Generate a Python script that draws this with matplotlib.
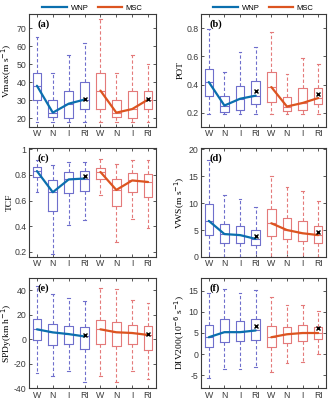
import matplotlib
matplotlib.use("Agg")
import matplotlib.pyplot as plt
from matplotlib.lines import Line2D

# ---------------- data ----------------
categories = ["W", "N", "I", "RI", "W", "N", "I", "RI"]
series = ["WNP", "MSC"]

# (a) Vmax
vmax_lo = [18, 18, 18, 18, 18, 18, 18, 18]
vmax_q1 = [30, 20.5, 20, 25, 25, 20.5, 20, 25]
vmax_med = [38, 23, 28, 30.3, 35.3, 23, 25, 30.3]
vmax_q3 = [45, 30, 35, 40, 45, 30, 35, 35]
vmax_hi = [65, 45, 55, 62, 75, 45, 55, 50.4]
vmax_mean = [30.8, 30.6]

# (b) POT
pot_lo = [0.195, 0.19, 0.19, 0.19, 0.19, 0.19, 0.19, 0.195]
pot_q1 = [0.32, 0.207, 0.22, 0.262, 0.28, 0.212, 0.22, 0.26]
pot_med = [0.418, 0.252, 0.30, 0.322, 0.383, 0.245, 0.27, 0.305]
pot_q3 = [0.51, 0.32, 0.387, 0.428, 0.488, 0.31, 0.375, 0.375]
pot_hi = [0.795, 0.488, 0.634, 0.663, 0.775, 0.476, 0.59, 0.543]
pot_mean = [0.352, 0.335]

# (c) TCF
tcf_lo = [0.665, 0.187, 0.41, 0.45, 0.64, 0.28, 0.46, 0.39]
tcf_q1 = [0.784, 0.52, 0.657, 0.675, 0.768, 0.56, 0.67, 0.625]
tcf_med = [0.83, 0.665, 0.765, 0.772, 0.823, 0.683, 0.757, 0.745]
tcf_q3 = [0.86, 0.757, 0.82, 0.83, 0.855, 0.77, 0.815, 0.805]
tcf_hi = [0.92, 0.88, 0.90, 0.90, 0.927, 0.887, 0.913, 0.913]
tcf_mean = [0.795, None]

# (d) VWS
vws_lo = [0, 0, 0, 0, 0, 0, 0, 0]
vws_q1 = [4.06, 2.6, 2.6, 2.2, 3.9, 3.25, 2.9, 2.6]
vws_med = [6.7, 4.25, 4.06, 3.35, 6.25, 5.0, 4.4, 4.06]
vws_q3 = [9.9, 6.1, 5.8, 5.0, 8.9, 7.3, 6.7, 5.75]
vws_hi = [18, 11.4, 10.8, 9.25, 15.1, 13, 12.3, 10.3]
vws_mean = [3.8, 4.6]

# (e) SPDy
spd_lo = [-27.6, -30.5, -26.2, -35, -30.5, -35, -26.2, -33]
spd_q1 = [-0.8, -4.7, -4.1, -8.3, -3.6, -6, -3.6, -9.1]
spd_med = [8.0, 5.5, 4.1, 2.2, 8.0, 5.6, 5.0, 3.4]
spd_q3 = [16.5, 12.4, 11, 9.7, 15.7, 13.8, 11.9, 11]
spd_hi = [43.3, 36.7, 33.7, 31.2, 42, 40.8, 32.3, 29.5]
spd_mean = [3.0, 4.5]

# (f) DIV200
div_lo = [-5.7, -3.6, -3.6, -3.0, -4.1, -2.0, -1.8, 0]
div_q1 = [1.75, 2.8, 3.0, 3.3, 1.75, 2.6, 3.2, 3.6]
div_med = [4.0, 5.2, 5.2, 5.6, 4.0, 4.7, 5.0, 5.0]
div_q3 = [6.9, 8.2, 7.8, 8.3, 6.6, 6.5, 6.9, 6.5]
div_hi = [14.5, 15.3, 14.4, 15.2, 13.5, 11.7, 11.7, 10.2]
div_mean = [6.6, 6.1]

# ---------------- style ----------------
BOX_COLORS = ["#6f6fcc", "#e47a7a"]
LINE_COLORS = ["#0b6fae", "#dc5420"]
SPINE = "#3a3a3a"
SERIF = ["Liberation Serif", "DejaVu Serif"]
SANS = ["Liberation Sans", "DejaVu Sans"]

plt.rcParams["font.family"] = SANS

fig = plt.figure(figsize=(3.28, 4.0), dpi=100)

lx0, lw = 29 / 328, 127 / 328
rx0, rw = 201 / 328, 125 / 328
rows = [(1 - 127 / 400, 113 / 400), (1 - 257 / 400, 109 / 400), (1 - 388 / 400, 110 / 400)]

panels = [
    ("(a)", r"Vmax(m s$^{-1}$)", vmax_lo, vmax_q1, vmax_med, vmax_q3, vmax_hi, vmax_mean,
     (15, 78), [20, 30, 40, 50, 60, 70], ["20", "30", "40", "50", "60", "70"]),
    ("(b)", "POT", pot_lo, pot_q1, pot_med, pot_q3, pot_hi, pot_mean,
     (0.1, 0.9), [0.2, 0.4, 0.6, 0.8], ["0.2", "0.4", "0.6", "0.8"]),
    ("(c)", "TCF", tcf_lo, tcf_q1, tcf_med, tcf_q3, tcf_hi, tcf_mean,
     (0.16, 1.01), [0.2, 0.4, 0.6, 0.8, 1.0], ["0.2", "0.4", "0.6", "0.8", "1"]),
    ("(d)", r"VWS(m s$^{-1}$)", vws_lo, vws_q1, vws_med, vws_q3, vws_hi, vws_mean,
     (0, 20.2), [0, 5, 10, 15, 20], ["0", "5", "10", "15", "20"]),
    ("(e)", r"SPDy(km h$^{-1}$)", spd_lo, spd_q1, spd_med, spd_q3, spd_hi, spd_mean,
     (-40, 50), [-40, -20, 0, 20, 40], ["-40", "-20", "0", "20", "40"]),
    ("(f)", r"DIV200(10$^{-6}$ s$^{-1}$)", div_lo, div_q1, div_med, div_q3, div_hi, div_mean,
     (-8, 18), [-5, 0, 5, 10, 15], ["-5", "0", "5", "10", "15"]),
]

positions = list(range(1, len(categories) + 1))

for i, (tag, ylab, lo, q1, med, q3, hi, mean, ylim, yt, ytl) in enumerate(panels):
    r, c = divmod(i, 2)
    y0, h = rows[r]
    x0, w = (lx0, lw) if c == 0 else (rx0, rw)
    ax = fig.add_axes([x0, y0, w, h])

    for s in range(2):
        sl = slice(4 * s, 4 * s + 4)
        stats = []
        for k in range(4 * s, 4 * s + 4):
            stats.append(dict(med=med[k], q1=q1[k], q3=q3[k],
                              whislo=lo[k], whishi=hi[k], fliers=[]))
        col = BOX_COLORS[s]
        ax.bxp(stats, positions=positions[sl], widths=0.55, showfliers=False,
               capwidths=0.18, manage_ticks=False,
               boxprops=dict(color=col, linewidth=0.8),
               whiskerprops=dict(color=col, linewidth=0.8, linestyle=(0, (3, 2))),
               capprops=dict(color=col, linewidth=0.8),
               medianprops=dict(color=col, linewidth=0.8))
        ax.plot(positions[sl], med[sl], color=LINE_COLORS[s], lw=1.6, zorder=4,
                solid_capstyle="round")
        if mean[s] is not None:
            ax.plot(positions[4 * s + 3], mean[s], marker="x", color="black",
                    ms=3.2, mew=1.0, ls="none", zorder=5)

    ax.set_xlim(0.5, 8.5)
    ax.set_ylim(*ylim)
    ax.set_xticks(positions)
    ax.set_xticklabels(categories)
    ax.set_yticks(yt)
    ax.set_yticklabels(ytl)
    ax.tick_params(direction="in", length=2, width=0.6, labelsize=6.3, pad=1.8,
                   colors=SPINE, top=True, right=True)
    for sp in ax.spines.values():
        sp.set_color(SPINE)
        sp.set_linewidth(0.8)
    ax.set_ylabel(ylab, fontsize=6.8, family=SERIF, labelpad=1)
    if c == 0:
        ax.yaxis.set_label_coords(-0.116, 0.5)
    ax.text(0.07, 0.95, tag, transform=ax.transAxes, ha="left", va="top",
            fontsize=7.5, family=SERIF, fontweight="bold")

    if r == 0:
        handles = [Line2D([], [], color=LINE_COLORS[0], lw=1.6),
                   Line2D([], [], color=LINE_COLORS[1], lw=1.6)]
        ax.legend(handles, series, loc="lower center", bbox_to_anchor=(0.5, 1.0),
                  ncol=2, frameon=False, fontsize=5.5, handlelength=3.2,
                  handletextpad=0.5, columnspacing=1.2, borderaxespad=0.2,
                  borderpad=0.1)

fig.savefig("out.png", dpi=100)
